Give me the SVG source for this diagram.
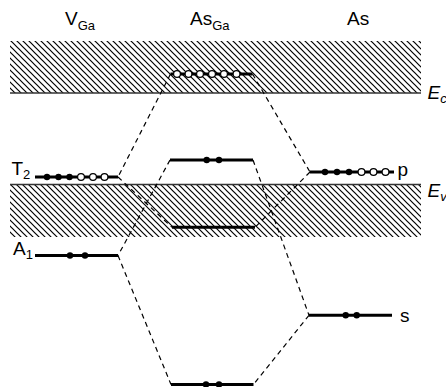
<svg xmlns="http://www.w3.org/2000/svg" width="446" height="387" viewBox="0 0 446 387">
<style>
text{font-family:"Liberation Sans",Arial,sans-serif;font-size:19px;fill:#000}
.sub{font-size:13px}
.it{font-style:italic}
.lvl{stroke:#000;stroke-width:3;fill:none}
.edge{stroke:#333;stroke-width:1.6;fill:none}
.dash{stroke:#000;stroke-width:1.2;stroke-dasharray:5 4;fill:none}
.f{fill:#000}
.o{fill:#fff;stroke:#000;stroke-width:1.2}
</style>
<defs>
<pattern id="hatch" patternUnits="userSpaceOnUse" width="6" height="6">
<path d="M0,0 L6,6 M5,-1 L7,1 M-1,5 L1,7" stroke="#000" stroke-width="1.2"/>
</pattern>
</defs>
<rect width="446" height="387" fill="#fff"/>
<g id="conduction-band">
<rect x="10" y="41" width="411" height="52" fill="url(#hatch)"/>
<line class="edge" x1="10" y1="93" x2="421" y2="93"/>
<text class="it" x="427.5" y="98.5">E<tspan class="sub" dy="4">c</tspan></text>
</g>
<g id="valence-band">
<rect x="10" y="184.5" width="411" height="52.5" fill="url(#hatch)"/>
<line class="edge" x1="10" y1="184.5" x2="421" y2="184.5"/>
<text class="it" x="427.5" y="197">E<tspan class="sub" dy="4">v</tspan></text>
</g>
<g id="headers">
<text x="65" y="25">V<tspan class="sub" dy="4.5">Ga</tspan></text>
<text x="190" y="25">As<tspan class="sub" dy="4.5">Ga</tspan></text>
<text x="347" y="25">As</text>
</g>
<g id="connectors">
<line class="dash" x1="170.5" y1="74" x2="118" y2="177"/>
<line class="dash" x1="252.5" y1="74" x2="310" y2="172"/>
<line class="dash" x1="118" y1="177" x2="172" y2="227.3"/>
<line class="dash" x1="310" y1="172" x2="255" y2="227.3"/>
<line class="dash" x1="170" y1="160" x2="118" y2="255.5"/>
<line class="dash" x1="253" y1="160" x2="309" y2="315.3"/>
<line class="dash" x1="118" y1="255.5" x2="171" y2="384.5"/>
<line class="dash" x1="309" y1="315.3" x2="253.5" y2="384.5"/>
</g>
<g id="asga-cb">
<line class="lvl" x1="170.5" y1="74" x2="252.5" y2="74"/>
<circle class="o" cx="177" cy="74" r="3.4"/>
<circle class="o" cx="188.5" cy="74" r="3.4"/>
<circle class="o" cx="200" cy="74" r="3.4"/>
<circle class="o" cx="212" cy="74" r="3.4"/>
<circle class="o" cx="224" cy="74" r="3.4"/>
<circle class="o" cx="236.5" cy="74" r="3.4"/>
</g>
<g id="T2">
<line class="lvl" x1="35" y1="177" x2="118" y2="177"/>
<circle class="f" cx="47" cy="177" r="3.2"/>
<circle class="f" cx="58.5" cy="177" r="3.2"/>
<circle class="f" cx="69.5" cy="177" r="3.2"/>
<circle class="o" cx="81" cy="177" r="3.4"/>
<circle class="o" cx="93" cy="177" r="3.4"/>
<circle class="o" cx="104.5" cy="177" r="3.4"/>
<text x="11.5" y="175">T<tspan class="sub" dy="3.5">2</tspan></text>
</g>
<g id="p">
<line class="lvl" x1="310" y1="172" x2="394" y2="172"/>
<circle class="f" cx="325" cy="172" r="3.2"/>
<circle class="f" cx="337" cy="172" r="3.2"/>
<circle class="f" cx="349" cy="172" r="3.2"/>
<circle class="o" cx="361.5" cy="172" r="3.4"/>
<circle class="o" cx="373.5" cy="172" r="3.4"/>
<circle class="o" cx="385.5" cy="172" r="3.4"/>
<text x="397.5" y="176">p</text>
</g>
<g id="asga-upper">
<line class="lvl" x1="170" y1="160" x2="253" y2="160"/>
<circle class="f" cx="206.7" cy="160" r="3.2"/>
<circle class="f" cx="219" cy="160" r="3.2"/>
</g>
<g id="asga-vb">
<line class="lvl" x1="172" y1="227.3" x2="255" y2="227.3"/>
</g>
<g id="A1">
<line class="lvl" x1="35" y1="255.5" x2="118" y2="255.5"/>
<circle class="f" cx="70" cy="255.5" r="3.2"/>
<circle class="f" cx="85" cy="255.5" r="3.2"/>
<text x="13" y="255">A<tspan class="sub" dy="4">1</tspan></text>
</g>
<g id="s">
<line class="lvl" x1="309" y1="315.3" x2="392" y2="315.3"/>
<circle class="f" cx="345.7" cy="315.3" r="3.2"/>
<circle class="f" cx="356.7" cy="315.3" r="3.2"/>
<text x="400" y="322">s</text>
</g>
<g id="asga-bottom">
<line class="lvl" x1="171" y1="384.5" x2="253.5" y2="384.5"/>
<circle class="f" cx="206" cy="384.5" r="3.2"/>
<circle class="f" cx="219" cy="384.5" r="3.2"/>
</g>
</svg>
